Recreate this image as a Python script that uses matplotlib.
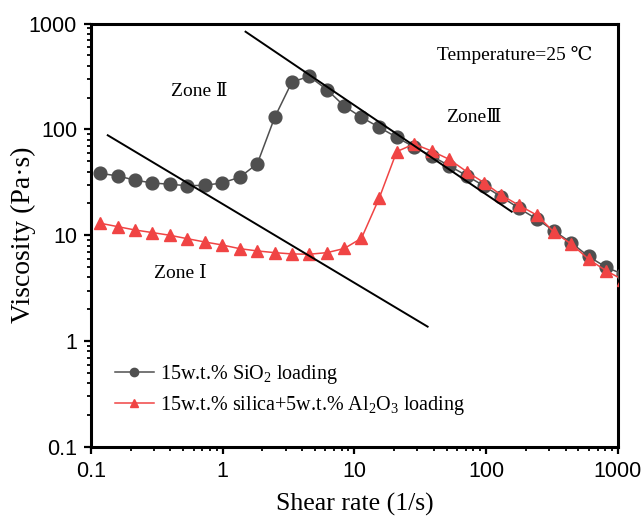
import matplotlib
matplotlib.use("Agg")
import matplotlib.pyplot as plt
from matplotlib.ticker import LogLocator, FuncFormatter, NullFormatter

# Shear rate sweep (1/s); last point lies just past the axis limit
shear_rate = [0.117, 0.160, 0.217, 0.292, 0.396, 0.536, 0.730, 0.987, 1.345, 1.83,
              2.48, 3.35, 4.54, 6.18, 8.37, 11.3, 15.4, 20.9, 28.3, 38.5,
              52.2, 71.1, 96.1, 130, 177, 242, 327, 442, 599, 811, 1100]

# Viscosity (Pa·s)
visc_sio2 = [38.5, 36.3, 33.1, 31.2, 30.3, 29.4, 29.6, 31.2, 35.3, 47.4,
             130, 280, 317, 237, 166, 130, 104.7, 84.2, 68.2, 56.1,
             45.4, 36.5, 29.2, 23.1, 18.0, 14.2, 11.0, 8.5, 6.3, 5.0, 4.26]
visc_silica_al2o3 = [13.0, 12.05, 11.2, 10.6, 10.0, 9.29, 8.64, 8.1, 7.47, 7.11,
                     6.85, 6.66, 6.62, 6.85, 7.5, 9.37, 22.4, 61.6, 72.8, 62.5,
                     52.2, 39.9, 31.4, 24.0, 19.2, 15.5, 10.7, 8.27, 5.93, 4.63, 3.77]

# Power-law guide lines (end points)
guide_low_x = [0.134, 35.9]
guide_low_y = [88.0, 1.37]
guide_high_x = [1.49, 156]
guide_high_y = [837, 16.7]

series_labels = ["15w.t.% SiO$_2$ loading",
                 "15w.t.% silica+5w.t.% Al$_2$O$_3$ loading"]
tick_values = [0.1, 1, 10, 100, 1000]

plt.rcParams['mathtext.fontset'] = 'custom'
plt.rcParams['mathtext.rm'] = 'Liberation Serif'
plt.rcParams['mathtext.it'] = 'Liberation Serif'

SERIF = ['Liberation Serif', 'DejaVu Serif', 'Noto Sans CJK SC']
SANS = ['Liberation Sans', 'DejaVu Sans']

fig = plt.figure(figsize=(6.44, 5.18), dpi=100)
ax = fig.add_axes([0.1413, 0.1371, 0.8183, 0.8175])

gray = '#4f4f4f'
red = '#f04444'

ax.plot(shear_rate, visc_sio2, '-o', color=gray, lw=1.1, ms=9.2,
        mfc=gray, mec=gray, label=series_labels[0], zorder=3)
ax.plot(shear_rate, visc_silica_al2o3, '-^', color=red, lw=1.1, ms=9.2,
        mfc=red, mec=red, label=series_labels[1], zorder=4)

ax.plot(guide_low_x, guide_low_y, '-', color='black', lw=1.4, zorder=5)
ax.plot(guide_high_x, guide_high_y, '-', color='black', lw=1.4, zorder=5)

ax.set_xscale('log')
ax.set_yscale('log')
ax.set_xlim(0.1, 1000)
ax.set_ylim(0.1, 1000)

fmt = FuncFormatter(lambda v, p: f"{v:g}")
for axis in (ax.xaxis, ax.yaxis):
    axis.set_major_locator(LogLocator(base=10, numticks=10))
    axis.set_minor_locator(LogLocator(base=10, subs=range(2, 10), numticks=20))
    axis.set_major_formatter(fmt)
    axis.set_minor_formatter(NullFormatter())
ax.set_xticks(tick_values)
ax.set_yticks(tick_values)

ax.tick_params(which='major', direction='out', length=5, width=1.6,
               labelsize=15.5, pad=5, top=False, right=False)
ax.tick_params(which='minor', direction='out', length=2.6, width=1.3,
               top=False, right=False)
for lab in ax.get_xticklabels() + ax.get_yticklabels():
    lab.set_fontfamily(SANS)

for sp in ax.spines.values():
    sp.set_linewidth(2.2)

ax.set_xlabel("Shear rate (1/s)", fontsize=18.5, family=SERIF, labelpad=8)
ax.set_ylabel("Viscosity (Pa·s)", fontsize=20, family=SERIF)
ax.yaxis.set_label_coords(-0.104, 0.5)

ax.text(0.205, 0.839, "Zone Ⅱ", transform=ax.transAxes, ha='center', va='center',
        fontsize=14, family=SERIF)
ax.text(0.169, 0.4085, "Zone Ⅰ", transform=ax.transAxes, ha='center', va='center',
        fontsize=14, family=SERIF)
ax.text(0.727, 0.777, "ZoneⅢ", transform=ax.transAxes, ha='center', va='center',
        fontsize=14, family=SERIF)
ax.text(0.804, 0.9256, "Temperature=25 ℃", transform=ax.transAxes, ha='center',
        va='center', fontsize=14, family=SERIF)

leg = ax.legend(loc='center left', bbox_to_anchor=(0.045, 0.135), frameon=False,
                prop={'family': SERIF, 'size': 14.5}, handlelength=1.95,
                handletextpad=0.3, labelspacing=0.4, markerscale=0.65,
                borderpad=0, borderaxespad=0)

fig.savefig("out.png", dpi=100)
